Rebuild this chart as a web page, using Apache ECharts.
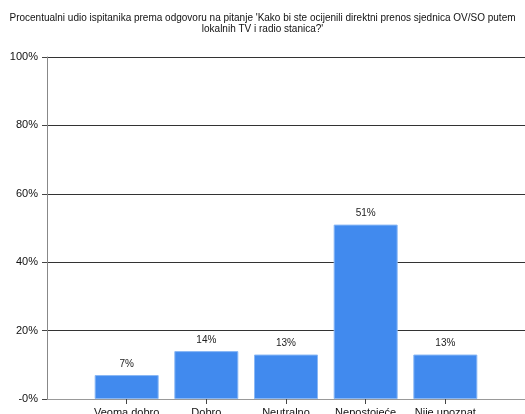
<!DOCTYPE html>
<html><head><meta charset="utf-8">
<script src="https://cdn.jsdelivr.net/npm/echarts@6/dist/echarts.min.js"></script>
<style>html,body{margin:0;padding:0;background:#fff}#c{width:525px;height:414px}</style>
</head><body><div id="c"></div>
<script>
const titleText = "Procentualni udio ispitanika prema odgovoru na pitanje 'Kako bi ste ocijenili direktni prenos sjednica OV/SO putem\nlokalnih TV i radio stanica?'";
const categories = ["Veoma dobro", "Dobro", "Neutralno", "Nepostojeće", "Nije upoznat"];
const values = [7, 14, 13, 51, 13];
const yTicks = [0, 20, 40, 60, 80, 100];

const cats = [""].concat(categories, [""]);
const data = [null].concat(values, [null]);
const font = "Liberation Sans, Arial, sans-serif";
const chart = echarts.init(document.getElementById('c'), null, {renderer: 'canvas'});
chart.setOption({
  animation: false,
  title: {
    text: titleText, left: 'center', top: 8,
    textStyle: {fontFamily: font, fontSize: 10, fontWeight: 'normal', color: '#111', lineHeight: 11}
  },
  grid: {left: 47, right: 0, top: 57, bottom: 15, containLabel: false, outerBoundsMode: 'none'},
  xAxis: {
    type: 'category', data: cats, boundaryGap: false,
    axisLine: {lineStyle: {color: '#999', width: 1}},
    axisTick: {length: 5, lineStyle: {color: '#444'}, interval: (i) => i > 0 && i < cats.length - 1},
    axisLabel: {interval: 0, margin: 8, fontFamily: font, fontSize: 11, color: '#111'},
    splitLine: {show: false}
  },
  yAxis: {
    type: 'value', min: 0, max: 100, interval: 20,
    axisLine: {show: true, lineStyle: {color: '#888'}},
    axisTick: {show: true, length: 5, lineStyle: {color: '#444'}},
    axisLabel: {margin: 9, fontFamily: font, fontSize: 11, color: '#111',
      formatter: v => (v === 0 ? '-0' : v) + '%'},
    splitLine: {show: true, lineStyle: {color: '#333', width: 1}}
  },
  series: [{
    type: 'bar', data: data, barWidth: 64,
    itemStyle: {color: '#418AEE', borderColor: '#8ab8f5', borderWidth: 1},
    label: {show: true, position: 'top', distance: 6, fontFamily: font, fontSize: 10, color: '#222',
      formatter: p => p.value + '%'}
  }]
});
</script></body></html>
